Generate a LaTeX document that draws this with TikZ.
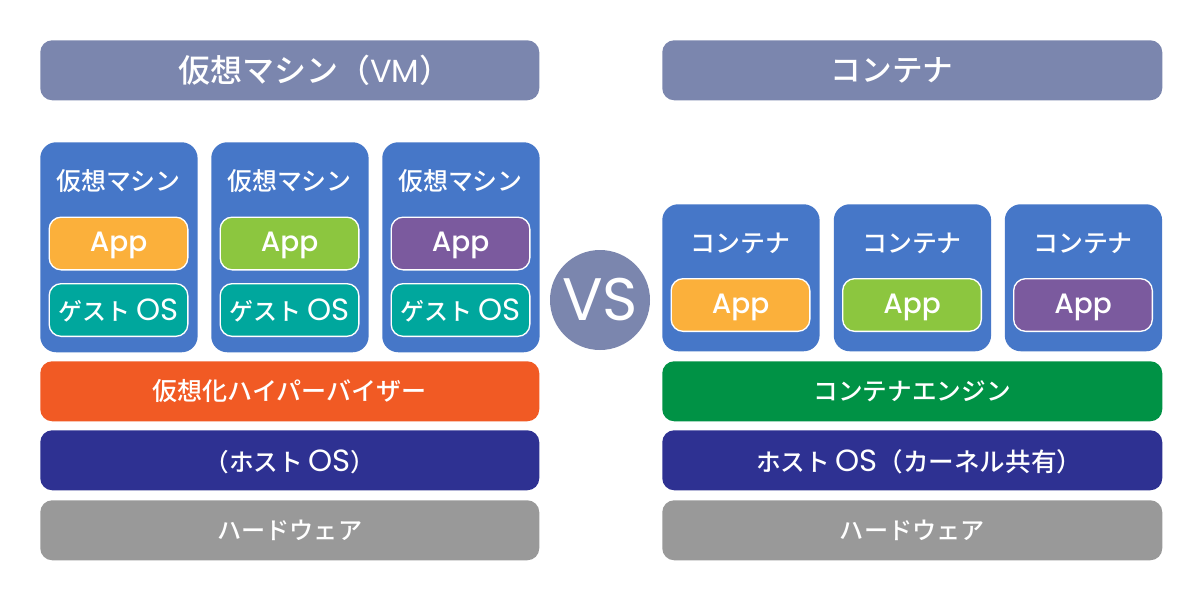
\documentclass[tikz,border=0pt]{standalone}
\usepackage{fontspec}
\setmainfont{Noto Sans CJK JP Medium}
\newfontfamily\lat{Poppins}
\newfontfamily\latm{Poppins Medium}
\definecolor{hdr}{HTML}{7B86AE}
\definecolor{blu}{HTML}{4677C8}
\definecolor{org}{HTML}{FBB03B}
\definecolor{grn}{HTML}{8CC63F}
\definecolor{pur}{HTML}{7B5A9E}
\definecolor{gos}{HTML}{00A79D}
\definecolor{hyp}{HTML}{F15A24}
\definecolor{eng}{HTML}{009245}
\definecolor{hos}{HTML}{2E3192}
\definecolor{hw}{HTML}{999999}
\newcommand{\osfont}{\lat\fontsize{23}{22}\selectfont}
\tikzset{
 bar/.style={rounded corners=9pt,inner sep=0,text=white,anchor=north west,minimum width=374.25pt,minimum height=45pt},
 wide/.style={minimum width=375pt},
 ttl/.style={bar,fill=hdr,font=\fontsize{24}{26}\selectfont},
 lay/.style={bar,font=\fontsize{18.5}{22}\selectfont},
 osline/.style={text height=20.4pt,text depth=4pt},
 panel/.style={rounded corners=12pt,fill=blu,inner sep=0,anchor=north west,minimum width=118pt},
 lbl/.style={text=white,inner sep=0,font=\fontsize{18.7}{22}\selectfont},
 boxed/.style={rounded corners=9pt,draw=white,line width=1pt,inner sep=0,text=white,minimum width=104pt,minimum height=39.5pt},
 app/.style={boxed,font=\latm\fontsize{21}{22}\selectfont,text height=16.4pt,text depth=4pt},
 guest/.style={boxed,font=\fontsize{18}{22}\selectfont,text height=20pt,text depth=4.2pt},
}
\begin{document}
\begin{tikzpicture}[x=0.75pt,y=-0.75pt]
\useasboundingbox (0,0) rectangle (1200,600);
\fill[white] (0,0) rectangle (1200,600);
\node[ttl] (t1) at (40,40) {\kern37.5pt仮想マシン（{\lat VM}）};
\node[ttl,wide,font=\fontsize{23}{26}\selectfont] (t2) at (662,40) {コンテナ\kern30pt};
\foreach \n/\x/\c in {a/40/org,b/211/grn,c/382/pur}{
 \node[panel,minimum height=157.5pt] (p\n) at (\x,142) {};
 \node[lbl] (l\n) at (\x+78.5,181) {仮想マシン};
 \node[app,fill=\c] (ap\n) at (\x+78.5,243.5) {App};
 \node[guest,fill=gos] (g\n) at (\x+78.5,310) {ゲスト\kern4pt{\osfont OS}};
}
\foreach \n/\x/\c in {d/662/org,e/833.5/grn,f/1004.5/pur}{
 \node[panel,minimum height=110.25pt] (p\n) at (\x,204) {};
 \node[lbl] (l\n) at (\x+78.5,243) {コンテナ};
 \node[app,fill=\c] (ap\n) at (\x+78.5,305) {App};
}
\node[lay,fill=hyp,font=\fontsize{18.8}{22}\selectfont] (h1) at (40,361) {仮想化ハイパーバイザー};
\node[lay,osline,fill=hos] (o1) at (40,430) {（ホスト\kern4pt{\osfont OS}）};
\node[lay,fill=hw,font=\fontsize{18.1}{22}\selectfont] (w1) at (40,500) {ハードウェア};
\node[lay,wide,fill=eng] (h2) at (662,361) {コンテナエンジン};
\node[lay,wide,osline,fill=hos] (o2) at (662,430) {\kern10.5ptホスト\kern4pt{\osfont OS}{\fontsize{19.2}{22}\selectfont（カーネル共有）}};
\node[lay,wide,fill=hw,font=\fontsize{18.1}{22}\selectfont] (w2) at (662,500) {ハードウェア};
\node[circle,fill=hdr,minimum size=75pt,inner sep=0,text=white,font=\lat\fontsize{45}{48}\selectfont] (vs) at (600,300) {VS};
\end{tikzpicture}
\end{document}
